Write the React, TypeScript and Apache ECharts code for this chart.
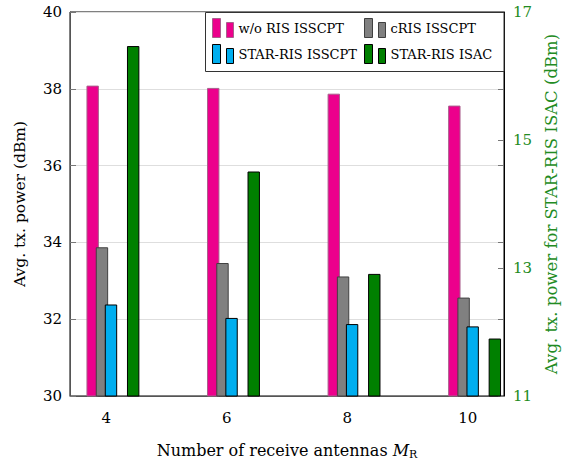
import React, { useEffect, useRef } from "react";
import * as echarts from "echarts";

const xs = [4, 6, 8, 10];
const woRis = [38.07, 38.01, 37.86, 37.55];
const cRis = [33.86, 33.45, 33.1, 32.55];
const starRis = [32.37, 32.02, 31.86, 31.8];
const starIsac = [16.46, 14.5, 12.9, 11.89];
const xTicks = [4, 6, 8, 10];
const rightTicks = [11, 13, 15, 17];

const FONT = "'DejaVu Serif', 'Liberation Serif', serif";
const GREEN_TXT = "#228B22";
const BAR_W = 0.189;
const ICON = "path://M0,0H8V19H0Z M14,4H21V19H14Z";

function barSeries(name: string, vals: number[], color: string, border: string, yIdx: number, off: number, base: number) {
  return {
    type: "custom",
    name,
    yAxisIndex: yIdx,
    data: xs.map((x, i) => [x, vals[i]]),
    encode: { x: 0, y: 1 },
    itemStyle: { color, borderColor: border, borderWidth: 1 },
    renderItem: (_p: any, api: any) => {
      const x = api.value(0);
      const v = api.value(1);
      const p0 = api.coord([x + off - BAR_W / 2, v]);
      const p1 = api.coord([x + off + BAR_W / 2, base]);
      return {
        type: "rect",
        shape: { x: p0[0], y: p0[1], width: p1[0] - p0[0], height: p1[1] - p0[1] },
        style: { fill: color, stroke: border, lineWidth: 1 },
      };
    },
  };
}

export default function App() {
  const ref = useRef<HTMLDivElement>(null);
  useEffect(() => {
    if (!ref.current) return;
    const chart = echarts.init(ref.current, null, { renderer: "svg" });
    const legendText = { fontFamily: FONT, fontSize: 13, color: "#000" };
    const mkLegendItem = (name: string, color: string, border: string) => ({
      name,
      icon: ICON,
      itemStyle: { color, borderColor: border, borderWidth: 1 },
    });
    chart.setOption({
      animation: false,
      textStyle: { fontFamily: FONT },
      grid: {
        left: 70,
        right: 59,
        top: 12,
        bottom: 66,
        outerBoundsMode: "none",
        containLabel: false,
        show: true,
        borderColor: "#000",
        borderWidth: 1,
        backgroundColor: "transparent",
      },
      xAxis: {
        type: "value",
        min: 3.4,
        max: 10.6,
        axisLine: { show: true, lineStyle: { color: "#555" } },
        axisTick: { show: false },
        splitLine: { show: false },
        axisLabel: { customValues: xTicks, margin: 14, fontFamily: FONT, fontSize: 15, color: "#000" },
        name: "Number of receive antennas {i|M}{sub|R}",
        nameLocation: "middle",
        nameGap: 45,
        nameTextStyle: {
          fontFamily: FONT,
          fontSize: 16,
          color: "#000",
          rich: {
            i: { fontFamily: FONT, fontSize: 16, fontStyle: "italic", color: "#000" },
            sub: { fontFamily: FONT, fontSize: 11, color: "#000", padding: [8, 0, 0, 0] },
          },
        },
      },
      yAxis: [
        {
          type: "value",
          min: 30,
          max: 40,
          interval: 2,
          position: "left",
          axisLine: { show: true, lineStyle: { color: "#555" } },
          axisTick: { show: true, inside: true, length: 6, lineStyle: { color: "#777" } },
          splitLine: { show: true, lineStyle: { color: "#dedede", width: 1 } },
          axisLabel: { margin: 8, fontFamily: FONT, fontSize: 15, color: "#000" },
          name: "Avg. tx. power (dBm)",
          nameLocation: "middle",
          nameGap: 42,
          nameTextStyle: { fontFamily: FONT, fontSize: 15.5, color: "#000" },
        },
        {
          type: "value",
          min: 11,
          max: 17,
          position: "right",
          axisLine: { show: true, lineStyle: { color: "#000" } },
          axisTick: { show: true, inside: true, length: 6, customValues: rightTicks, lineStyle: { color: "#777" } },
          splitLine: { show: false },
          axisLabel: { customValues: rightTicks, margin: 9, fontFamily: FONT, fontSize: 15, color: GREEN_TXT },
          name: "Avg. tx. power for STAR-RIS ISAC (dBm)",
          nameLocation: "middle",
          nameGap: 38,
          nameRotate: 90,
          nameTextStyle: { fontFamily: FONT, fontSize: 16.5, color: GREEN_TXT },
        },
        {
          type: "value",
          min: 30,
          max: 40,
          interval: 2,
          position: "right",
          axisLine: { show: false },
          axisTick: { show: true, inside: true, length: 6, lineStyle: { color: "#777" } },
          splitLine: { show: false },
          axisLabel: { show: false },
        },
      ],
      legend: [
        {
          orient: "vertical",
          left: 212,
          top: 18,
          padding: 0,
          itemWidth: 21,
          itemHeight: 19,
          itemGap: 6,
          selectedMode: false,
          textStyle: legendText,
          z: 6,
          data: [
            mkLegendItem("w/o RIS ISSCPT", "#EC008C", "#a8608c"),
            mkLegendItem("STAR-RIS ISSCPT", "#00AEEF", "#000"),
          ],
        },
        {
          orient: "vertical",
          left: 364,
          top: 18,
          padding: 0,
          itemWidth: 21,
          itemHeight: 19,
          itemGap: 6,
          selectedMode: false,
          textStyle: legendText,
          z: 6,
          data: [
            mkLegendItem("cRIS ISSCPT", "#808080", "#404040"),
            mkLegendItem("STAR-RIS ISAC", "#008000", "#000"),
          ],
        },
      ],
      graphic: [
        {
          type: "rect",
          z: 5,
          shape: { x: 205.5, y: 12.5, width: 298.5, height: 59 },
          style: { fill: "#fff", stroke: "#333", lineWidth: 1 },
        },
      ],
      series: [
        barSeries("w/o RIS ISSCPT", woRis, "#EC008C", "#a8608c", 0, -0.224, 30),
        barSeries("cRIS ISSCPT", cRis, "#808080", "#404040", 0, -0.07, 30),
        barSeries("STAR-RIS ISSCPT", starRis, "#00AEEF", "#000", 0, 0.08, 30),
        barSeries("STAR-RIS ISAC", starIsac, "#008000", "#000", 1, 0.448, 11),
      ],
    });
    return () => chart.dispose();
  }, []);
  return <div ref={ref} style={{ width: 563, height: 462, position: "absolute", left: 0, top: 0 }} />;
}
